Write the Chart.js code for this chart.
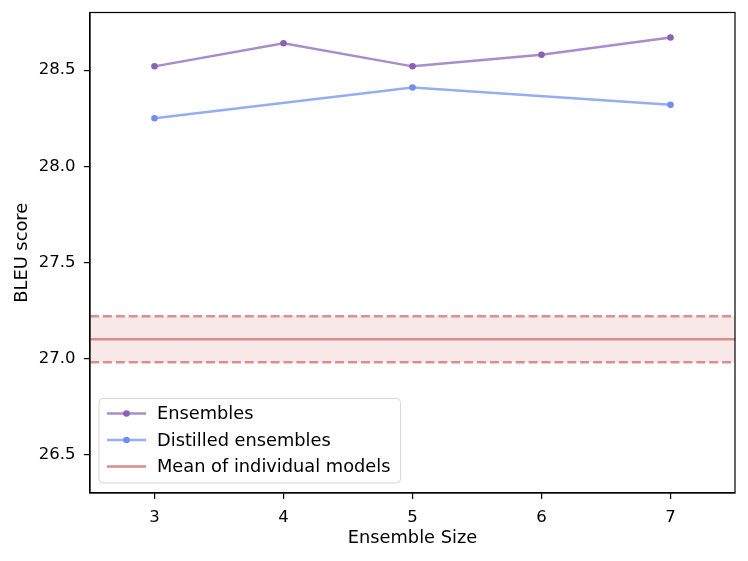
<!DOCTYPE html>
<html>
<head>
<meta charset="utf-8">
<script src="https://cdn.jsdelivr.net/npm/chart.js@4.4.0/dist/chart.umd.min.js"></script>
<style>
html,body{margin:0;padding:0;background:#fff;}
#wrap{width:748px;height:561px;}
</style>
</head>
<body>
<div id="wrap"><canvas id="c" width="748" height="561"></canvas></div>
<script>
// ---- data ----
const ensembleSizes = [3, 4, 5, 6, 7];
const ensembleBleu = [28.52, 28.64, 28.52, 28.58, 28.67];
const distilledSizes = [3, 5, 7];
const distilledBleu = [28.25, 28.41, 28.32];
const meanIndividual = 27.10;
const meanUpper = 27.22;
const meanLower = 26.98;
const xRange = [2.5, 7.5];
const yRange = [26.3, 28.8];
const xTicks = [3, 4, 5, 6, 7];
const yTicks = [26.5, 27.0, 27.5, 28.0, 28.5];
const seriesLabels = ['Ensembles', 'Distilled ensembles', 'Mean of individual models'];

const FONT = 'DejaVu Sans';
const FS_TICK = 16.5;
const FS_TEXT = 17.8;

const toPts = (xs, ys) => xs.map((x, i) => ({x: x, y: ys[i]}));
const flat = v => xRange.map(x => ({x: x, y: v}));

const frameAndLegend = {
  id: 'frameAndLegend',
  afterDatasetsDraw(chart) {
    const ctx = chart.ctx, a = chart.chartArea;
    ctx.save();
    ctx.strokeStyle = '#000';
    ctx.lineWidth = 1.2;
    ctx.strokeRect(a.left, a.top, a.right - a.left, a.bottom - a.top);
    // legend
    const items = chart.data.datasets.filter(d => d.inLegend);
    ctx.font = FS_TEXT + 'px "' + FONT + '"';
    let maxW = 0;
    items.forEach(d => { maxW = Math.max(maxW, ctx.measureText(d.label).width); });
    const rowH = 26.5;
    const boxX = a.left + 9, boxW = 58 + maxW + 10;
    const boxH = items.length * rowH + 5;
    const boxY = a.bottom - 10 - boxH;
    ctx.beginPath();
    if (ctx.roundRect) ctx.roundRect(boxX, boxY, boxW, boxH, 4); else ctx.rect(boxX, boxY, boxW, boxH);
    ctx.fillStyle = 'rgba(255,255,255,0.8)';
    ctx.fill();
    ctx.strokeStyle = '#d6d6d6';
    ctx.lineWidth = 1;
    ctx.stroke();
    items.forEach((d, i) => {
      const cy = boxY + 15 + i * rowH;
      ctx.beginPath();
      ctx.strokeStyle = d.borderColor;
      ctx.lineWidth = d.borderWidth;
      ctx.moveTo(boxX + 8, cy);
      ctx.lineTo(boxX + 47, cy);
      ctx.stroke();
      if (d.pointRadius > 0) {
        ctx.beginPath();
        ctx.fillStyle = d.pointBackgroundColor;
        ctx.arc(boxX + 27.5, cy, d.pointRadius, 0, Math.PI * 2);
        ctx.fill();
      }
      ctx.fillStyle = '#000';
      ctx.textBaseline = 'middle';
      ctx.textAlign = 'left';
      ctx.fillText(d.label, boxX + 58, cy + 1);
    });
    ctx.restore();
  }
};

new Chart(document.getElementById('c'), {
  type: 'line',
  data: {
    datasets: [
      {
        label: seriesLabels[0], inLegend: true,
        data: toPts(ensembleSizes, ensembleBleu),
        borderColor: '#a98ccc', borderWidth: 2.4,
        pointBackgroundColor: '#8b61b4', pointBorderWidth: 0, pointRadius: 3.3,
        fill: false, tension: 0
      },
      {
        label: seriesLabels[1], inLegend: true,
        data: toPts(distilledSizes, distilledBleu),
        borderColor: '#95aef2', borderWidth: 2.4,
        pointBackgroundColor: '#6e8fea', pointBorderWidth: 0, pointRadius: 3.3,
        fill: false, tension: 0
      },
      {
        label: seriesLabels[2], inLegend: true,
        data: flat(meanIndividual),
        borderColor: '#d98d8d', borderWidth: 2.4,
        pointRadius: 0, fill: false
      },
      {
        label: 'upper',
        data: flat(meanUpper),
        borderColor: '#d99292', borderWidth: 2.4, borderDash: [9, 3.9],
        pointRadius: 0, fill: '+1', backgroundColor: 'rgba(214,130,130,0.18)'
      },
      {
        label: 'lower',
        data: flat(meanLower),
        borderColor: '#d99292', borderWidth: 2.4, borderDash: [9, 3.9],
        pointRadius: 0, fill: false
      }
    ]
  },
  options: {
    responsive: false,
    animation: false,
    events: [],
    layout: {padding: {left: 0, right: 13, top: 12.5, bottom: 12}},
    plugins: {legend: {display: false}, tooltip: {enabled: false}},
    scales: {
      x: {
        type: 'linear', min: xRange[0], max: xRange[1],
        afterBuildTicks: s => { s.ticks = xTicks.map(v => ({value: v})); },
        afterFit: s => { s.height = 56; s.paddingLeft = 0; s.paddingRight = 0; },
        grid: {drawOnChartArea: false, drawTicks: true, tickLength: 6, color: '#000', lineWidth: 1.2},
        border: {display: true, color: '#000', width: 1.2},
        ticks: {color: '#000', font: {family: FONT, size: FS_TICK}, padding: 9, maxRotation: 0,
                callback: v => String(v)},
        title: {display: true, text: 'Ensemble Size', color: '#000', font: {family: FONT, size: FS_TEXT}, padding: {top: 2, bottom: 0}}
      },
      y: {
        type: 'linear', min: yRange[0], max: yRange[1],
        afterBuildTicks: s => { s.ticks = yTicks.map(v => ({value: v})); },
        afterFit: s => { s.width = 90; s.paddingTop = 0; s.paddingBottom = 0; },
        grid: {drawOnChartArea: false, drawTicks: true, tickLength: 6, color: '#000', lineWidth: 1.2},
        border: {display: true, color: '#000', width: 1.2},
        ticks: {color: '#000', font: {family: FONT, size: FS_TICK}, padding: 8.5,
                callback: v => v.toFixed(1)},
        title: {display: true, text: 'BLEU score', color: '#000', font: {family: FONT, size: FS_TEXT}, padding: {top: 12, bottom: 0}}
      }
    }
  },
  plugins: [frameAndLegend]
});
</script>
</body>
</html>
